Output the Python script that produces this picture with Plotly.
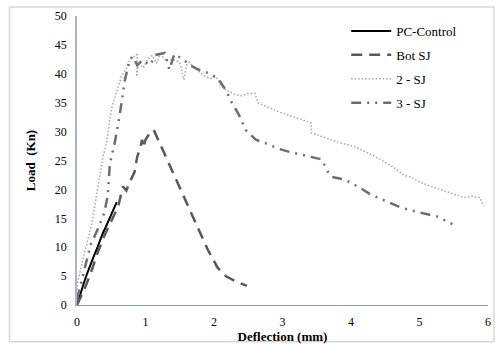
import plotly.graph_objects as go

# PC-Control
pc_x = [0, 0.05, 0.1, 0.15, 0.2, 0.25, 0.29, 0.33, 0.38, 0.42, 0.46, 0.5, 0.54, 0.58]
pc_y = [0, 2.0, 3.8, 5.5, 7.2, 8.6, 9.7, 11.0, 12.5, 13.5, 14.6, 15.5, 16.6, 17.8]

# Bot SJ
bot_x = [0, 0.1, 0.2, 0.3, 0.4, 0.5, 0.6, 0.67, 0.72, 0.78, 0.84, 0.88, 0.92, 0.95, 0.97, 1.0, 1.05, 1.12,
         1.3, 1.5, 1.7, 1.9, 2.05, 2.17, 2.3, 2.48]
bot_y = [0, 2.5, 5.5, 9.0, 12.0, 14.5, 17.0, 20.5, 19.8, 21.5, 23.0, 25.7, 27.0, 28.6, 27.2, 28.6, 29.5, 30.3,
         25.5, 20.2, 15.0, 9.8, 6.5, 5.0, 4.2, 3.3]

# 2 - SJ
sj2_x = [0, 0.01, 0.09, 0.22, 0.3, 0.38, 0.43, 0.5, 0.58, 0.65, 0.72, 0.77, 0.83, 0.88, 0.87, 0.9, 0.97, 1.03, 1.1, 1.16, 1.22,
         1.3, 1.4, 1.5, 1.56, 1.6, 1.64, 1.72, 1.8, 1.88, 1.95, 2.03, 2.1, 2.17, 2.3, 2.4, 2.5, 2.6, 2.64, 2.8, 2.99,
         3.2, 3.42, 3.42, 3.6, 3.8, 4.05, 4.2, 4.35, 4.6, 4.78, 4.87, 5.0, 5.15, 5.3, 5.45, 5.65, 5.78, 5.88, 5.94]
sj2_y = [2.0, 4.0, 8.0, 14.3, 20.0, 25.7, 28.0, 33.8, 37.0, 39.5, 41.0, 42.4, 43.0, 43.3, 39.5, 42.0, 41.0, 42.5, 43.2, 41.8, 43.5,
         42.2, 42.5, 42.0, 39.0, 41.5, 42.0, 41.0, 40.2, 39.5, 39.2, 39.5, 38.0, 37.2, 36.5, 36.2, 36.6, 36.6, 35.0, 34.2, 33.2,
         32.4, 31.5, 29.8, 29.0, 28.2, 27.4, 26.5, 25.7, 24.0, 22.4, 22.2, 21.3, 20.6, 20.0, 19.3, 18.6, 18.8, 18.6, 17.1]

# 3 - SJ
sj3_x = [0, 0.1, 0.2, 0.3, 0.4, 0.45, 0.48, 0.55, 0.62, 0.7, 0.77, 0.81, 0.88, 0.96, 1.06, 1.16, 1.28, 1.35, 1.42,
         1.55, 1.65, 1.78, 1.95, 2.07, 2.17, 2.26, 2.36, 2.46, 2.61, 2.75, 2.95, 3.13, 3.35, 3.57, 3.67, 3.71, 3.91,
         4.1, 4.29, 4.5, 4.72, 4.9, 5.1, 5.26, 5.48]
sj3_y = [1.0, 6.0, 10.5, 13.0, 16.0, 19.0, 24.5, 28.0, 32.6, 39.0, 42.4, 43.0, 41.5, 42.4, 41.5, 43.3, 43.6, 40.7, 43.4,
         42.5, 41.5, 40.7, 40.0, 39.0, 37.2, 35.0, 33.0, 30.3, 28.6, 28.0, 27.0, 26.4, 25.8, 25.2, 22.9, 22.2, 21.7,
         20.5, 19.1, 18.0, 16.9, 16.3, 15.8, 15.3, 14.0]

fig = go.Figure()
fig.add_trace(go.Scatter(x=pc_x, y=pc_y, mode="lines", name="PC-Control", legendgroup="a",
                         line=dict(color="#000000", width=2)))
fig.add_trace(go.Scatter(x=bot_x, y=bot_y, mode="lines", name="Bot SJ", legendgroup="b",
                         line=dict(color="#595959", width=2.5, dash="11px,7px")))
fig.add_trace(go.Scatter(x=sj2_x, y=sj2_y, mode="lines", name="2 - SJ", legendgroup="c",
                         line=dict(color="#A6A6A6", width=1.5, dash="1.5px,2px")))
fig.add_trace(go.Scatter(x=sj3_x, y=sj3_y, mode="lines", name="3 - SJ", legendgroup="d",
                         line=dict(color="#6E6E6E", width=2.5, dash="10px,6px,2px,6px,2px,6px")))

font = "Liberation Serif"
fig.update_layout(
    width=499, height=347,
    margin=dict(l=77, r=8, t=16, b=41),
    paper_bgcolor="white", plot_bgcolor="white",
    font=dict(family=font, size=12, color="#000000"),
    showlegend=True,
    legend=dict(x=0.655, y=1.0, xanchor="left", yanchor="top", bgcolor="rgba(0,0,0,0)",
                font=dict(family=font, size=13, color="#000000"),
                traceorder="grouped", tracegroupgap=4, itemwidth=40),
    xaxis=dict(range=[0, 6], dtick=1, showgrid=False, zeroline=False,
               showline=True, linecolor="#8E9CB0", linewidth=1, ticks="",
               tickfont=dict(family=font, size=12), ticklabelstandoff=6,
               title=dict(text="<b>Deflection (mm)</b>", font=dict(family=font, size=13), standoff=0)),
    yaxis=dict(range=[0, 50], dtick=5, showgrid=False, zeroline=False,
               showline=True, linecolor="#A9B6C8", linewidth=1.5, ticks="",
               tickfont=dict(family=font, size=12), ticklabelstandoff=6,
               title=dict(text="<b>Load  (Kn)</b>", font=dict(family=font, size=13), standoff=16)),
)
fig.add_shape(type="rect", xref="paper", yref="paper",
              x0=(9 - 77) / 414, x1=(497 - 77) / 414, y0=(306 - 343) / 290, y1=(306 - 7) / 290,
              line=dict(color="#D9D9D9", width=1.5), fillcolor="rgba(0,0,0,0)", layer="below")

fig.write_html("out.html")
